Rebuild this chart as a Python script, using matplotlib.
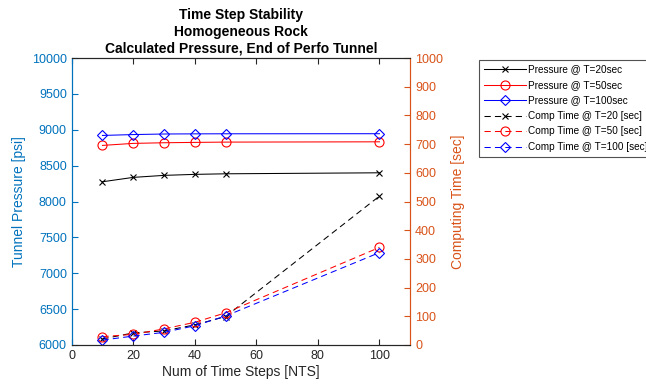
import matplotlib
matplotlib.use("Agg")
import matplotlib.pyplot as plt

plt.rcParams['font.family'] = ['Liberation Sans', 'DejaVu Sans']

# data
nts = [10, 20, 30, 40, 50, 100]
p_t20 = [8276, 8337, 8365, 8379, 8387, 8401]
p_t50 = [8783, 8811, 8820, 8825, 8829, 8833]
p_t100 = [8922, 8934, 8942, 8944, 8945, 8946]
ct_t20 = [21, 42, 49, 70, 99, 519]
ct_t50 = [29, 37, 56, 79, 112, 340]
ct_t100 = [17, 31, 44, 67, 101, 322]

blue_ax = (0.0, 0.447, 0.741)
orange_ax = (0.85, 0.325, 0.098)
gray = (0.15, 0.15, 0.15)

fig = plt.figure(figsize=(6.46, 3.85), dpi=100)
ax = fig.add_axes([0.111, 0.104, 0.524, 0.745])
ax2 = ax.twinx()

base = dict(markerfacecolor='none', linewidth=0.75, markeredgewidth=0.8)
dash = (0, (6, 4))
l1, = ax.plot(nts, p_t20, color='k', marker='x', markersize=4.5, label='Pressure @ T=20sec', **base)
l2, = ax.plot(nts, p_t50, color='r', marker='o', markersize=6.5, label='Pressure @ T=50sec', **base)
l3, = ax.plot(nts, p_t100, color='b', marker='D', markersize=5, label='Pressure @ T=100sec', **base)
l4, = ax2.plot(nts, ct_t20, color='k', marker='x', markersize=4.5, ls=dash, label='Comp Time @ T=20 [sec]', **base)
l5, = ax2.plot(nts, ct_t50, color='r', marker='o', markersize=6.5, ls=dash, label='Comp Time @ T=50 [sec]', **base)
l6, = ax2.plot(nts, ct_t100, color='b', marker='D', markersize=5, ls=dash, label='Comp Time @ T=100 [sec]', **base)

ax.set_xlim(0, 110)
ax.set_ylim(6000, 10000)
ax2.set_ylim(0, 1000)
ax.set_xticks([0, 20, 40, 60, 80, 100])
ax.set_yticks(range(6000, 10001, 500))
ax2.set_yticks(range(0, 1001, 100))

ax.set_xlabel("Num of Time Steps [NTS]", fontsize=10, color=gray, labelpad=2)
ax.set_ylabel("Tunnel Pressure [psi]", fontsize=10, color=blue_ax, labelpad=4)
ax2.set_ylabel("Computing Time [sec]", fontsize=10, color=orange_ax, labelpad=6)
ax.set_title("Time Step Stability\nHomogeneous Rock\nCalculated Pressure, End of Perfo Tunnel",
             fontsize=10, fontweight='bold', linespacing=1.25, pad=4)

for a in (ax, ax2):
    a.spines['top'].set_color(gray)
    a.spines['bottom'].set_color(gray)
    a.spines['left'].set_color(blue_ax)
    a.spines['right'].set_color(orange_ax)
    for s in a.spines.values():
        s.set_linewidth(0.8)
ax.tick_params(axis='x', direction='in', top=True, colors=gray, labelsize=9, length=4, labelcolor=gray)
ax.tick_params(axis='y', direction='in', colors=blue_ax, labelsize=9, length=4)
ax2.tick_params(axis='y', direction='in', colors=orange_ax, labelsize=9, length=4)

leg = fig.legend(handles=[l1, l2, l3, l4, l5, l6], loc='upper left',
                 bbox_to_anchor=(474 / 646, 1 - 55 / 385), fontsize=7.2,
                 frameon=True, fancybox=False, edgecolor=gray, handlelength=4.2,
                 handletextpad=0.2, borderpad=0.45, labelspacing=0.55)
leg.get_frame().set_linewidth(0.8)

fig.savefig("out.png", dpi=100)
